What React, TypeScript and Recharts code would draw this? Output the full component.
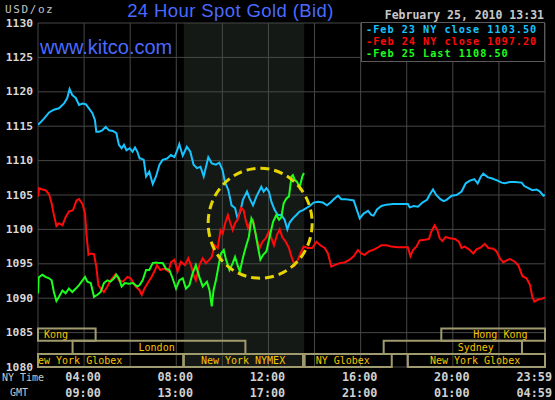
import React from "react";
import {
  LineChart,
  Line,
  XAxis,
  YAxis,
  CartesianGrid,
  ReferenceArea,
  ReferenceDot,
  Legend,
} from "recharts";

// [hour of NY day, price]
const feb23 = [
  [2.0, 1115.2], [2.26, 1116.1], [2.48, 1117.0], [2.69, 1117.4], [2.91, 1117.6], [3.13, 1118.3],
  [3.27, 1119.1], [3.37, 1120.4], [3.49, 1119.5], [3.64, 1119.1], [3.78, 1118.1], [3.93, 1118.3],
  [4.07, 1118.2], [4.21, 1117.6], [4.36, 1116.9], [4.47, 1115.9], [4.53, 1114.2], [4.65, 1114.2],
  [4.79, 1114.4], [4.94, 1114.9], [5.08, 1114.4], [5.25, 1114.3], [5.4, 1114.0], [5.51, 1112.3],
  [5.63, 1111.8], [5.73, 1112.3], [5.84, 1111.5], [5.98, 1111.8], [6.1, 1111.3], [6.21, 1111.9],
  [6.31, 1111.3], [6.41, 1110.3], [6.47, 1110.3], [6.59, 1110.1], [6.69, 1107.7], [6.83, 1108.4],
  [6.98, 1106.6], [7.12, 1107.7], [7.27, 1109.4], [7.41, 1110.1], [7.6, 1110.3], [7.77, 1110.8],
  [7.92, 1110.5], [8.03, 1111.4], [8.13, 1112.4], [8.28, 1110.7], [8.46, 1112.0], [8.61, 1111.3],
  [8.75, 1109.4], [8.9, 1108.9], [9.05, 1109.1], [9.19, 1107.7], [9.39, 1110.5], [9.54, 1109.6],
  [9.72, 1109.4], [9.87, 1109.7], [10.01, 1108.6], [10.11, 1106.9], [10.26, 1105.7], [10.4, 1103.5],
  [10.55, 1103.1], [10.66, 1101.6], [10.78, 1102.6], [10.89, 1104.3], [11.07, 1105.5], [11.18, 1104.5],
  [11.33, 1103.5], [11.48, 1104.8], [11.69, 1106.2], [11.79, 1105.5], [11.91, 1106.0], [12.02, 1105.5],
  [12.13, 1104.0], [12.27, 1102.8], [12.41, 1102.1], [12.56, 1102.1], [12.7, 1101.4], [12.82, 1100.0],
  [12.92, 1101.0], [13.06, 1101.6], [13.21, 1102.1], [13.35, 1102.6], [13.5, 1102.8], [13.64, 1103.1],
  [13.79, 1103.4], [13.96, 1103.9], [14.15, 1104.0], [14.36, 1103.9], [14.54, 1103.5], [14.69, 1103.9],
  [14.87, 1104.5], [15.02, 1104.9], [15.16, 1104.4], [15.31, 1104.4], [15.52, 1104.3], [15.7, 1104.2],
  [15.81, 1103.1], [15.96, 1101.6], [16.13, 1102.3], [16.32, 1102.7], [16.46, 1102.1], [16.56, 1102.0],
  [16.71, 1102.9], [16.9, 1103.4], [17.12, 1103.6], [17.4, 1103.7], [17.77, 1103.7], [18.05, 1103.7],
  [18.13, 1103.2], [18.3, 1103.4], [18.49, 1103.3], [18.68, 1103.9], [18.88, 1104.3], [18.99, 1105.0],
  [19.14, 1105.8], [19.28, 1105.0], [19.46, 1104.4], [19.6, 1104.1], [19.73, 1104.3], [19.95, 1104.9],
  [20.16, 1105.0], [20.38, 1105.5], [20.56, 1106.7], [20.74, 1107.1], [20.93, 1107.3], [21.08, 1106.7],
  [21.22, 1107.7], [21.32, 1108.1], [21.51, 1107.6], [21.71, 1107.4], [21.94, 1107.1], [22.12, 1106.8],
  [22.26, 1106.7], [22.48, 1106.9], [22.69, 1106.9], [22.99, 1106.8], [23.1, 1106.3], [23.28, 1106.0],
  [23.45, 1105.7], [23.64, 1105.8], [23.78, 1105.5], [23.93, 1104.9], [24.0, 1105.0],
];

const feb24 = [
  [2.0, 1104.8], [2.05, 1106.0], [2.19, 1105.8], [2.33, 1105.7], [2.48, 1105.1], [2.59, 1103.8],
  [2.69, 1102.1], [2.8, 1100.5], [2.91, 1100.9], [3.06, 1100.6], [3.2, 1101.8], [3.34, 1102.6],
  [3.52, 1102.8], [3.67, 1104.2], [3.78, 1104.4], [3.93, 1103.7], [4.04, 1102.3], [4.1, 1099.4],
  [4.19, 1096.3], [4.29, 1096.5], [4.43, 1096.4], [4.53, 1094.6], [4.62, 1091.9], [4.72, 1091.4],
  [4.86, 1090.9], [5.01, 1091.7], [5.15, 1092.6], [5.37, 1093.5], [5.51, 1092.6], [5.69, 1092.4],
  [5.88, 1093.1], [6.02, 1092.9], [6.24, 1091.7], [6.4, 1091.2], [6.5, 1090.5], [6.62, 1091.4],
  [6.76, 1092.2], [6.93, 1093.1], [7.08, 1094.1], [7.16, 1094.8], [7.31, 1094.1], [7.48, 1094.3],
  [7.66, 1093.9], [7.77, 1095.2], [7.92, 1095.6], [8.06, 1093.9], [8.2, 1095.3], [8.38, 1094.8],
  [8.52, 1095.8], [8.64, 1094.8], [8.75, 1093.4], [8.85, 1092.6], [9.0, 1094.8], [9.15, 1095.8],
  [9.29, 1095.1], [9.44, 1095.6], [9.54, 1096.0], [9.66, 1097.7], [9.8, 1097.3], [9.92, 1099.9],
  [10.02, 1099.4], [10.12, 1100.9], [10.24, 1102.1], [10.35, 1100.9], [10.45, 1099.9], [10.55, 1100.9],
  [10.66, 1101.4], [10.81, 1103.1], [10.92, 1102.8], [11.01, 1101.4], [11.11, 1100.2], [11.21, 1101.1],
  [11.33, 1101.4], [11.48, 1098.7], [11.62, 1097.3], [11.74, 1098.2], [11.88, 1098.7], [12.02, 1099.7],
  [12.13, 1098.7], [12.24, 1097.7], [12.37, 1099.2], [12.49, 1100.0], [12.6, 1098.9], [12.75, 1098.2],
  [12.89, 1097.3], [13.0, 1096.0], [13.14, 1094.8], [13.28, 1095.6], [13.39, 1096.5], [13.53, 1097.5],
  [13.71, 1097.3], [13.9, 1097.3], [14.08, 1098.2], [14.25, 1097.7], [14.44, 1097.3], [14.58, 1096.5],
  [14.73, 1094.6], [14.87, 1094.8], [15.09, 1095.1], [15.31, 1095.2], [15.52, 1095.6], [15.7, 1096.1],
  [15.88, 1097.0], [16.03, 1096.5], [16.17, 1096.3], [16.36, 1096.8], [16.53, 1097.0], [16.71, 1097.3],
  [16.9, 1097.7], [17.12, 1097.7], [17.33, 1097.5], [17.62, 1097.4], [17.91, 1097.4], [18.05, 1097.4],
  [18.16, 1096.1], [18.27, 1097.0], [18.42, 1097.5], [18.56, 1098.4], [18.78, 1098.5], [18.96, 1098.6],
  [19.07, 1099.7], [19.21, 1100.6], [19.33, 1099.9], [19.43, 1098.7], [19.55, 1098.3], [19.69, 1098.9],
  [19.87, 1098.7], [20.09, 1098.6], [20.26, 1098.2], [20.38, 1097.3], [20.52, 1097.5], [20.7, 1097.1],
  [20.89, 1096.5], [21.03, 1097.1], [21.22, 1097.4], [21.39, 1097.9], [21.54, 1097.3], [21.76, 1097.2],
  [21.9, 1096.8], [22.04, 1095.8], [22.19, 1095.2], [22.33, 1095.5], [22.48, 1095.7], [22.69, 1095.3],
  [22.84, 1094.8], [23.02, 1093.2], [23.2, 1092.9], [23.35, 1091.9], [23.45, 1090.2], [23.54, 1089.5],
  [23.71, 1089.8], [23.86, 1089.9], [24.0, 1090.1],
];

const feb25 = [
  [2.0, 1090.7], [2.03, 1093.0], [2.19, 1093.4], [2.33, 1093.1], [2.48, 1092.9], [2.59, 1092.6],
  [2.69, 1090.9], [2.8, 1089.6], [2.91, 1090.2], [3.06, 1091.1], [3.2, 1090.7], [3.34, 1091.4],
  [3.49, 1090.9], [3.64, 1091.4], [3.78, 1091.9], [3.93, 1092.6], [4.04, 1093.1], [4.14, 1092.4],
  [4.29, 1092.2], [4.43, 1090.2], [4.58, 1090.5], [4.72, 1090.9], [4.86, 1092.2], [5.01, 1092.6],
  [5.15, 1092.4], [5.3, 1092.9], [5.4, 1093.4], [5.51, 1092.9], [5.63, 1091.7], [5.77, 1092.2],
  [5.95, 1092.1], [6.12, 1092.2], [6.31, 1091.7], [6.41, 1091.9], [6.54, 1092.6], [6.69, 1094.1],
  [6.83, 1094.1], [6.98, 1095.1], [7.12, 1095.2], [7.27, 1095.1], [7.41, 1095.1], [7.55, 1094.3],
  [7.7, 1094.1], [7.84, 1092.9], [7.99, 1091.4], [8.13, 1092.6], [8.28, 1092.9], [8.42, 1091.4],
  [8.57, 1091.9], [8.71, 1093.6], [8.85, 1094.8], [9.0, 1093.1], [9.15, 1091.7], [9.33, 1092.4],
  [9.44, 1091.2], [9.54, 1088.8], [9.62, 1091.2], [9.72, 1092.6], [9.83, 1094.6], [9.94, 1096.5],
  [10.06, 1097.0], [10.16, 1095.6], [10.31, 1094.1], [10.45, 1095.1], [10.55, 1096.0], [10.66, 1094.8],
  [10.76, 1093.9], [10.9, 1096.0], [11.04, 1097.7], [11.15, 1098.9], [11.26, 1101.6], [11.33, 1101.1],
  [11.44, 1099.4], [11.54, 1097.5], [11.65, 1095.6], [11.77, 1096.3], [11.91, 1096.8], [12.05, 1098.9],
  [12.2, 1101.1], [12.34, 1102.1], [12.46, 1101.4], [12.56, 1101.8], [12.66, 1103.8], [12.78, 1104.5],
  [12.89, 1104.8], [13.0, 1107.7], [13.06, 1107.9], [13.14, 1107.2], [13.24, 1106.9], [13.35, 1106.1],
  [13.47, 1107.7], [13.54, 1108.2],
];

const seriesNames = ["Feb 23 NY close 1103.50", "Feb 24 NY close 1097.20", "Feb 25 Last 1108.50"];

const gridHours = [2, 4, 6, 8, 10, 12, 14, 16, 18, 20, 22, 24];
const labelHours = [4, 8, 12, 16, 20, 24];
const nyTimeLabels = ["04:00", "08:00", "12:00", "16:00", "20:00", "23:59"];
const gmtLabels = ["09:00", "13:00", "17:00", "21:00", "01:00", "04:59"];
const priceTicks = [1080, 1085, 1090, 1095, 1100, 1105, 1110, 1115, 1120, 1125, 1130];

// trading session bars along the bottom
const sessionNames = ["Kong", "London", "ew York Globex", "New York NYMEX", "NY Globex", "Sydney", "Hong Kong", "New York Globex"];
const sessionStarts = [2, 3.5, 2, 8.33, 13.57, 17, 19.5, 18.05];
const sessionEnds = [4.5, 11, 8.3, 13.5, 17.35, 23, 24, 24];
const sessionRows = [0, 1, 2, 2, 2, 1, 0, 2];
const rowTops = [1085.6, 1083.8, 1081.9];
const rowBottoms = [1083.8, 1081.9, 1080.0];

const pitHours = [8.33, 13.55];
const circleAt = [11.64, 1100.9];

const COLORS = ["#18c4ff", "#ff0a0a", "#1cff1c"];
const MONO = '"DejaVu Sans Mono", monospace';
const SANS = '"Liberation Sans", Arial, sans-serif';
const GRID = "#474747";
const LABEL_OFFSET: Record<string, number> = {
  Kong: 6,
  London: 66,
  "ew York Globex": 0,
  "New York NYMEX": 17,
  "NY Globex": 11,
  Sydney: 74,
  "Hong Kong": 32,
  "New York Globex": 22,
};

const toPoints = (rows: number[][]) => rows.map(([t, price]) => ({ t, price }));

function TimeTick(props: any) {
  const { x, y, payload } = props;
  const i = labelHours.indexOf(payload.value);
  if (i < 0) return null;
  const last = i === labelHours.length - 1;
  const tx = last ? x + 7 : x - 1;
  const style = { fontFamily: MONO, fontWeight: 700, fontSize: 11.8, fill: "#d0d0d0" };
  return (
    <g>
      <text x={tx} y={y + 6} textAnchor={last ? "end" : "middle"} {...style}>
        {nyTimeLabels[i]}
      </text>
      <text x={tx} y={y + 22} textAnchor={last ? "end" : "middle"} {...style}>
        {gmtLabels[i]}
      </text>
    </g>
  );
}

function PriceTick(props: any) {
  const { x, y, payload } = props;
  return (
    <text
      x={x + 3}
      y={y + 3.5}
      textAnchor="end"
      fontFamily={MONO}
      fontWeight={700}
      fontSize={11.3}
      fill="#d8d8d8"
    >
      {payload.value}
    </text>
  );
}

function LegendBox(props: any) {
  const items = props.payload || [];
  return (
    <div
      style={{
        width: "100%",
        height: "100%",
        boxSizing: "border-box",
        border: "1px solid #5a5a5a",
        background: "#000",
        padding: "1px 0 0 4px",
        fontFamily: MONO,
        fontWeight: 700,
        fontSize: 10.2,
        letterSpacing: 1,
        lineHeight: "12px",
      }}
    >
      {items.map((it: any) => (
        <div key={it.value} style={{ color: it.color, whiteSpace: "pre", height: 12 }}>
          -{it.value}
        </div>
      ))}
    </div>
  );
}

const dashedCircle = (p: any) => (
  <ellipse
    cx={p.cx}
    cy={p.cy}
    rx={52}
    ry={55}
    fill="none"
    stroke="#e6d600"
    strokeWidth={3}
    strokeDasharray="9 5"
  />
);

export default function App() {
  const series = [feb23, feb24, feb25];
  return (
    <div
      style={{
        position: "absolute",
        left: 0,
        top: 0,
        width: 555,
        height: 400,
        background: "#000",
        overflow: "hidden",
      }}
    >
      <LineChart width={555} height={400} margin={{ top: 23, right: 10, bottom: 0, left: 0 }}>
        <CartesianGrid stroke={GRID} fill="none" />
        {/* translucent so the grid stays visible through the NYMEX pit hours */}
        <ReferenceArea
          x1={pitHours[0]}
          x2={pitHours[1]}
          y1={1080}
          y2={1130}
          fill="#46524a"
          fillOpacity={0.3}
          stroke="none"
        />
        <XAxis
          dataKey="t"
          type="number"
          domain={[2, 24]}
          ticks={gridHours}
          interval={0}
          axisLine={false}
          tickLine={false}
          height={33}
          tick={<TimeTick />}
          allowDataOverflow
        />
        <YAxis
          type="number"
          domain={[1080, 1130]}
          ticks={priceTicks}
          interval={0}
          axisLine={false}
          tickLine={false}
          width={38}
          tick={<PriceTick />}
          allowDataOverflow
        />
        {sessionNames.map((name, i) => (
          <ReferenceArea
            key={name}
            x1={sessionStarts[i]}
            x2={sessionEnds[i]}
            y1={rowBottoms[sessionRows[i]]}
            y2={rowTops[sessionRows[i]]}
            fill="none"
            stroke="#a09b6e"
            strokeWidth={2}
            label={{
              value: name,
              position: "insideLeft",
              offset: LABEL_OFFSET[name],
              fill: "#f7c400",
              fontFamily: MONO,
              fontSize: 10,
            }}
          />
        ))}
        {series.map((rows, i) => (
          <Line
            key={seriesNames[i]}
            data={toPoints(rows)}
            dataKey="price"
            name={seriesNames[i]}
            type="linear"
            stroke={COLORS[i]}
            strokeWidth={2}
            dot={false}
            activeDot={false}
            isAnimationActive={false}
          />
        ))}
        <ReferenceDot x={circleAt[0]} y={circleAt[1]} r={54} shape={dashedCircle} />
        <Legend
          layout="vertical"
          align="center"
          verticalAlign="middle"
          content={<LegendBox />}
          wrapperStyle={{ position: "absolute", left: 361, top: 22, width: 184, height: 40 }}
        />
      </LineChart>
      <svg
        width={555}
        height={400}
        style={{ position: "absolute", left: 0, top: 0, pointerEvents: "none" }}
      >
        <text x={5} y={12.5} fontFamily={MONO} fontSize={11} letterSpacing={1.6} fill="#c4c4c4">
          USD/oz
        </text>
        <text x={230.5} y={17} textAnchor="middle" fontFamily={SANS} fontSize={18.5} letterSpacing={0.4} fill="#4a6aff">
          24 Hour Spot Gold (Bid)
        </text>
        <text x={40} y={54.3} fontFamily={SANS} fontSize={20} fill="#4a6aff">
          www.kitco.com
        </text>
        <text x={544} y={18.5} textAnchor="end" fontFamily={MONO} fontWeight={700} fontSize={11.5} fill="#c8c8c8">
          February 25, 2010 13:31
        </text>
        <text x={2} y={381} fontFamily={MONO} fontSize={10} fill="#c8c8c8">
          NY Time
        </text>
        <text x={10} y={396} fontFamily={MONO} fontSize={10} fill="#c8c8c8">
          GMT
        </text>
      </svg>
    </div>
  );
}
